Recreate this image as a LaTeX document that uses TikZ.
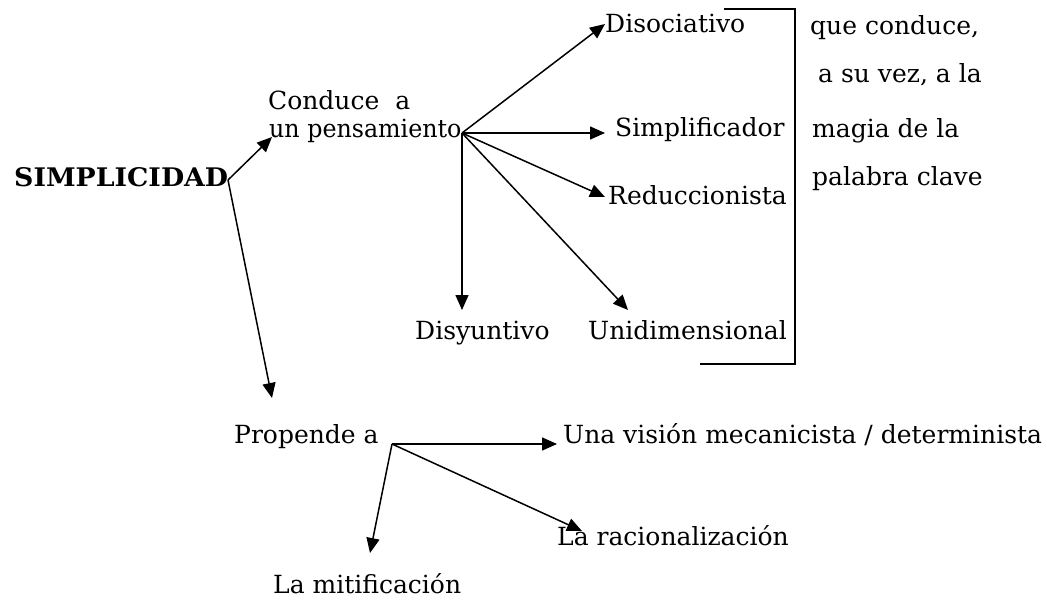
\documentclass[tikz,border=0pt]{standalone}
\usepackage{fontspec}
\setmainfont{DejaVu Serif}
\usetikzlibrary{arrows.meta}
\begin{document}
\begin{tikzpicture}[x=1pt,y=-1pt,
  lbl/.style={anchor=base west,inner sep=0pt,font=\fontsize{25}{30}\selectfont},
  arr/.style={line width=1.5pt,-{Triangle[length=15pt,width=13pt]}},
  brk/.style={line width=1.5pt}]
\useasboundingbox (0,0) rectangle (1047,602);
% nodes
\node[lbl,font=\bfseries\fontsize{22}{26}\selectfont] (simp) at (14,186) {\resizebox{214pt}{19pt}{SIMPLICIDAD}};
\node[lbl] (cond) at (268,110) {Conduce\ \ a};
\node[lbl] (unp) at (269,137) {\scalebox{0.95}[1]{un pensamiento}};
\node[lbl] (diso) at (605,33) {Disociativo};
\node[lbl] (simpl) at (615,136) {Simplificador};
\node[lbl] (redu) at (608,204) {Reduccionista};
\node[lbl] (disy) at (415,339) {Disyuntivo};
\node[lbl] (unid) at (588,339) {Unidimensional};
\node[lbl] (q1) at (810,35) {que conduce,};
\node[lbl] (q2) at (818,83) {a su vez, a la};
\node[lbl] (q3) at (812,137) {magia de la};
\node[lbl] (q4) at (812,185) {palabra clave};
\node[lbl] (prop) at (234,443) {Propende a};
\node[lbl] (vis) at (563,443) {Una visión mecanicista / determinista};
\node[lbl] (rac) at (557,545) {La racionalización};
\node[lbl] (mit) at (273,593) {La mitificación};
% junctions and tips
\coordinate (j1) at (228,180);
\coordinate (j2) at (462,133);
\coordinate (j3) at (392,444);
\coordinate (t1) at (272,137);
\coordinate (t2) at (272,398);
\coordinate (t3) at (605,24);
\coordinate (t4) at (605,133);
\coordinate (t5) at (605,197);
\coordinate (t6) at (462,310);
\coordinate (t7) at (628,310);
\coordinate (t8) at (557,444);
\coordinate (t9) at (582,531);
\coordinate (t10) at (370,553);
% arrows
\draw[arr] (j1) -- (t1);
\draw[arr] (j1) -- (t2);
\draw[arr] (j2) -- (t3);
\draw[arr] (j2) -- (t4);
\draw[arr] (j2) -- (t5);
\draw[arr] (j2) -- (t6);
\draw[arr] (j2) -- (t7);
\draw[arr] (j3) -- (t8);
\draw[arr] (j3) -- (t9);
\draw[arr] (j3) -- (t10);
% bracket
\coordinate (b1) at (724,9);
\coordinate (b2) at (795,9);
\coordinate (b3) at (795,364);
\coordinate (b4) at (700,364);
\draw[brk] (b1) -- (b2) -- (b3) -- (b4);
\end{tikzpicture}
\end{document}
